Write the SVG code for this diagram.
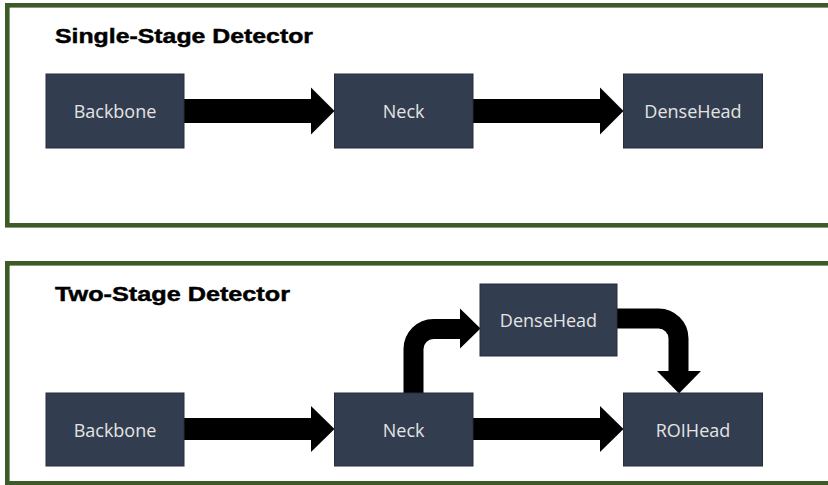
<svg xmlns="http://www.w3.org/2000/svg" width="828" height="485" viewBox="0 0 828 485">
  <defs>
    <style>
      .frame { fill: none; stroke: #3d5b27; stroke-width: 4.6; }
      .title { font-family: "Liberation Sans", Arial, sans-serif; font-weight: bold; font-size: 20.5px; fill: #000; stroke: #000; stroke-width: 0.45; }
      .box { fill: #333d50; stroke: #262d3b; stroke-width: 1; }
      .label { font-family: "Open Sans", "Liberation Sans", sans-serif; font-size: 18px; fill: #e4e4e4; text-anchor: middle; }
      .shaft { fill: none; stroke: #000; }
      .head { fill: #000; }
    </style>
  </defs>

  <rect width="828" height="485" fill="#ffffff"/>

  <!-- Single-stage panel -->
  <g id="panel-single">
    <rect class="frame" x="7.3" y="5.3" width="826" height="220"/>
    <text class="title" x="55" y="42.5" textLength="258" lengthAdjust="spacingAndGlyphs">Single-Stage Detector</text>
  </g>

  <!-- Two-stage panel -->
  <g id="panel-two">
    <rect class="frame" x="7.3" y="263.3" width="826" height="220"/>
    <text class="title" x="55" y="301" textLength="235" lengthAdjust="spacingAndGlyphs">Two-Stage Detector</text>
  </g>

  <!-- Connectors -->
  <g id="connectors">
    <!-- single-stage: Backbone -> Neck -> DenseHead -->
    <rect class="head" x="184" y="99" width="128" height="24"/>
    <polygon class="head" points="311,87.5 334.5,111 311,134.5"/>
    <rect class="head" x="473" y="99" width="128" height="24"/>
    <polygon class="head" points="600,87.5 623.5,111 600,134.5"/>

    <!-- two-stage: Backbone -> Neck -> ROIHead -->
    <rect class="head" x="184" y="418" width="128" height="22"/>
    <polygon class="head" points="311,406 334.5,429 311,452"/>
    <rect class="head" x="473" y="418" width="128" height="22"/>
    <polygon class="head" points="600,406 623.5,429 600,452"/>

    <!-- Neck -> DenseHead (bends up and right) -->
    <path class="shaft" stroke-width="20" d="M413.5,393 V349 A20,20 0 0 1 433.5,329 H461"/>
    <polygon class="head" points="460,308.5 480.5,328.5 460,348.5"/>

    <!-- DenseHead -> ROIHead (bends right and down) -->
    <path class="shaft" stroke-width="20" d="M617,318.5 H658.5 A20,20 0 0 1 678.5,338.5 V372"/>
    <polygon class="head" points="657,371 701,371 679,393.5"/>
  </g>

  <!-- Single-stage nodes -->
  <g id="s-backbone">
    <rect class="box" x="46" y="74" width="138" height="74"/>
    <text class="label" x="115" y="118">Backbone</text>
  </g>
  <g id="s-neck">
    <rect class="box" x="334.5" y="74" width="138.5" height="74"/>
    <text class="label" x="403.7" y="118">Neck</text>
  </g>
  <g id="s-densehead">
    <rect class="box" x="623.5" y="74" width="139" height="74"/>
    <text class="label" x="693" y="118">DenseHead</text>
  </g>

  <!-- Two-stage nodes -->
  <g id="t-backbone">
    <rect class="box" x="46" y="393" width="138" height="73"/>
    <text class="label" x="115" y="436.5">Backbone</text>
  </g>
  <g id="t-neck">
    <rect class="box" x="334.5" y="393" width="138.5" height="73"/>
    <text class="label" x="403.7" y="436.5">Neck</text>
  </g>
  <g id="t-densehead">
    <rect class="box" x="480" y="284" width="137" height="72"/>
    <text class="label" x="548.5" y="327">DenseHead</text>
  </g>
  <g id="t-roihead">
    <rect class="box" x="623.5" y="393" width="139" height="73"/>
    <text class="label" x="693" y="436.5">ROIHead</text>
  </g>
</svg>
